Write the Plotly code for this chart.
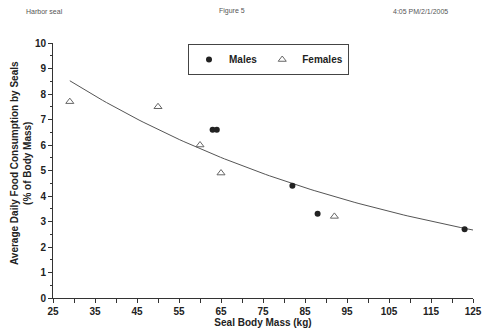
import numpy as np
import plotly.graph_objects as go

male_mass = [63, 64, 82, 88, 123]
male_food = [6.6, 6.6, 4.4, 3.3, 2.7]
female_mass = [29, 50, 60, 65, 92]
female_food = [7.7, 7.5, 6.0, 4.9, 3.2]

# exponential trendline y = a * exp(b * x), coefficients
trend_a = 12.1
trend_b = -0.0121
trend_x_range = [29, 125]
fit_x = np.linspace(trend_x_range[0], trend_x_range[1], 100)
fit_y = trend_a * np.exp(trend_b * fit_x)

W, H = 484, 329
L, T = 53, 43
R, B = 484 - 473, 329 - 298
PW, PH = W - L - R, H - T - B

def px_to_paper_x(px):
    return (px - L) / PW

def px_to_paper_y(py):
    return 1 - (py - T) / PH

font = "Liberation Sans, Arial, sans-serif"
fig = go.Figure()
fig.add_trace(go.Scatter(x=fit_x, y=fit_y, mode="lines", line=dict(color="#555", width=1),
                         showlegend=False, hoverinfo="skip"))
fig.add_trace(go.Scatter(x=male_mass, y=male_food, mode="markers", name="Males",
                         marker=dict(symbol="circle", size=6, color="#222")))
fig.add_trace(go.Scatter(x=female_mass, y=female_food, mode="markers", name="Females",
                         marker=dict(symbol="triangle-up-open", size=7, color="#666",
                                     line=dict(width=1))))

fig.update_layout(
    width=W, height=H,
    margin=dict(l=L, r=R, t=T, b=B, autoexpand=False),
    paper_bgcolor="white", plot_bgcolor="white",
    font=dict(family=font, color="#222"),
    legend=dict(orientation="h", x=px_to_paper_x(268.5), y=px_to_paper_y(59.5), xanchor="center", yanchor="middle",
                bordercolor="#444", borderwidth=1, bgcolor="white",
                font=dict(size=10, family=font, weight="bold", color="#222"),
                itemwidth=30, tracegroupgap=0),
)
for txt, xp, anchor in [("Harbor seal", 24, "left"), ("Figure 5", 232, "center"), ("4:05 PM/2/1/2005", 450, "right")]:
    fig.add_annotation(text=txt, x=px_to_paper_x(xp), y=px_to_paper_y(11), xref="paper", yref="paper",
                       xanchor=anchor, yanchor="middle", showarrow=False,
                       font=dict(size=7, family=font, color="#555"))

# y-axis title as a rotated annotation
fig.add_annotation(text="Average Daily Food Consumption by Seals<br>(% of Body Mass)",
                   x=px_to_paper_x(21), y=px_to_paper_y(163), xref="paper", yref="paper",
                   xanchor="center", yanchor="middle", textangle=-90, showarrow=False,
                   font=dict(size=10, family=font, weight="bold", color="#222"))

fig.update_xaxes(range=[25, 125], tickvals=list(range(25, 126, 10)), ticks="outside", ticklen=4,
                 showline=True, linecolor="#333", linewidth=1, tickcolor="#333", showgrid=False,
                 zeroline=False, automargin=False, tickfont=dict(size=10, family=font, weight="bold"),
                 minor=dict(tickvals=list(range(30, 126, 10)), ticks="outside", ticklen=4, tickcolor="#333"),
                 title=dict(text="Seal Body Mass (kg)", font=dict(size=10, family=font, weight="bold"), standoff=2))
fig.update_yaxes(range=[0, 10], tickvals=list(range(0, 11)), ticks="outside", ticklen=4,
                 showline=True, linecolor="#333", linewidth=1, tickcolor="#333", showgrid=False,
                 zeroline=False, automargin=False, tickfont=dict(size=10, family=font, weight="bold"),
                 minor=dict(dtick=0.5, ticks="outside", ticklen=2, tickcolor="#333"))

fig.write_html("out.html", config={"displayModeBar": False},
               post_script="document.body.style.margin='0';document.body.style.overflow='hidden';")
